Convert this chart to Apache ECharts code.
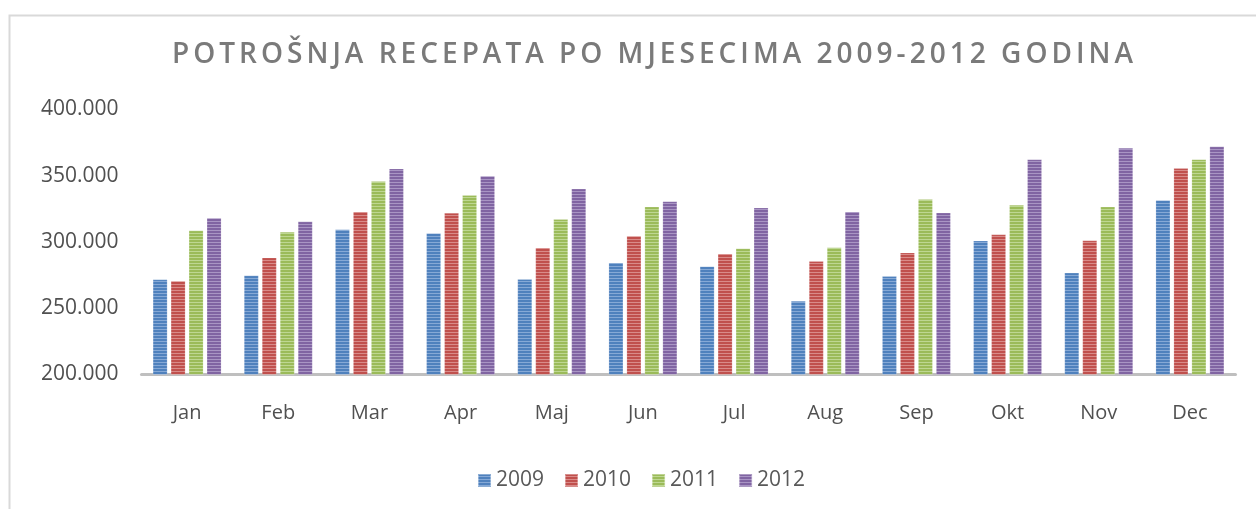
<!DOCTYPE html>
<html>
<head>
<meta charset="utf-8">
<script src="https://cdn.jsdelivr.net/npm/echarts@6/dist/echarts.min.js"></script>
<style>
  html, body { margin: 0; padding: 0; background: #fff; }
  #wrap { position: relative; width: 1256px; height: 509px; overflow: hidden; }
  #chart { position: absolute; left: 0; top: 0; width: 1256px; height: 509px; }
  #title { position: absolute; left: 172px; top: 38px; font-family: 'Open Sans', sans-serif;
           font-size: 28px; line-height: 28px; font-weight: 600; color: #7a7a7a; white-space: nowrap; }
</style>
</head>
<body>
<div id="wrap">
  <div id="chart"></div>
  <div id="title"></div>
</div>
<script>
const titleText = 'POTROŠNJA RECEPATA PO MJESECIMA 2009-2012 GODINA';
const months = ['Jan','Feb','Mar','Apr','Maj','Jun','Jul','Aug','Sep','Okt','Nov','Dec'];
const seriesNames = ['2009','2010','2011','2012'];
const y2009 = [271700, 274700, 309400, 306600, 271900, 284400, 281600, 255400, 274200, 300900, 276700, 331600];
const y2010 = [270600, 288200, 322800, 321900, 295600, 304600, 291100, 285400, 291900, 305600, 301100, 355600];
const y2011 = [308600, 307600, 345800, 335300, 317100, 326600, 295100, 295900, 332300, 327900, 326600, 362300];
const y2012 = [318100, 315400, 355300, 349800, 340100, 330600, 325800, 322800, 322100, 362300, 371000, 372000];
const yMin = 200000, yMax = 400000, yStep = 50000;

const baseColors = ['#4f81bd', '#c0504d', '#9bbb59', '#8064a2'];
const lightColors = ['#86a9d6', '#d98b89', '#bed792', '#a995c4'];

function makePattern(base, light) {
  const c = document.createElement('canvas');
  c.width = 4; c.height = 3;
  const ctx = c.getContext('2d');
  ctx.fillStyle = base; ctx.fillRect(0, 0, 4, 3);
  ctx.fillStyle = light; ctx.fillRect(0, 2, 4, 1);
  return { image: c, repeat: 'repeat' };
}

// Title with letter spacing (DOM text)
const titleEl = document.getElementById('title');
titleEl.textContent = titleText;
(function fitTitle() {
  const target = 1133 - 172;
  const mc = document.createElement('canvas').getContext('2d');
  mc.font = "600 28px 'Open Sans'";
  const w = mc.measureText(titleText).width;
  const n = [...titleText].length;
  const ls = (target - w) / (n - 1);
  titleEl.style.letterSpacing = ls + 'px';
})();

const chart = echarts.init(document.getElementById('chart'), null, { renderer: 'canvas' });
const allData = [y2009, y2010, y2011, y2012];
const fmt = v => String(v / 1000) + '.000';

chart.setOption({
  backgroundColor: '#ffffff',
  animation: false,
  textStyle: { fontFamily: 'Open Sans' },
  graphic: [{
    type: 'rect', silent: true,
    shape: { x: 9.5, y: 15.5, width: 1400, height: 700 },
    style: { fill: 'none', stroke: '#d9d9d9', lineWidth: 2 }
  }],
  grid: { left: 141.5, right: 20.5, top: 109.5, bottom: 134.5, containLabel: false },
  legend: {
    data: seriesNames,
    left: 477, top: 470, padding: 0,
    icon: 'rect', itemWidth: 13, itemHeight: 13, itemGap: 20,
    textStyle: { fontSize: 21, color: '#595959', fontFamily: 'Open Sans', padding: [0, 0, 0, 0] }
  },
  xAxis: {
    type: 'category',
    data: months,
    axisLine: { show: true, lineStyle: { color: '#bfbfbf', width: 3 } },
    axisTick: { show: false },
    axisLabel: { color: '#505050', fontSize: 20, margin: 29, fontFamily: 'Open Sans' },
    splitLine: { show: false }
  },
  yAxis: {
    type: 'value',
    min: yMin, max: yMax, interval: yStep,
    axisLine: { show: false },
    axisTick: { show: false },
    splitLine: { show: false },
    axisLabel: { color: '#505050', fontSize: 21, margin: 23, fontFamily: 'Open Sans', formatter: fmt, padding: [2, 0, 0, 0] }
  },
  series: seriesNames.map((name, i) => ({
    name: name,
    type: 'bar',
    data: allData[i],
    barWidth: 14.5,
    barGap: '24%',
    itemStyle: {
      color: makePattern(baseColors[i], lightColors[i]),
      borderColor: 'rgba(255,255,255,0.35)',
      borderWidth: 0.5
    }
  }))
});
</script>
</body>
</html>
